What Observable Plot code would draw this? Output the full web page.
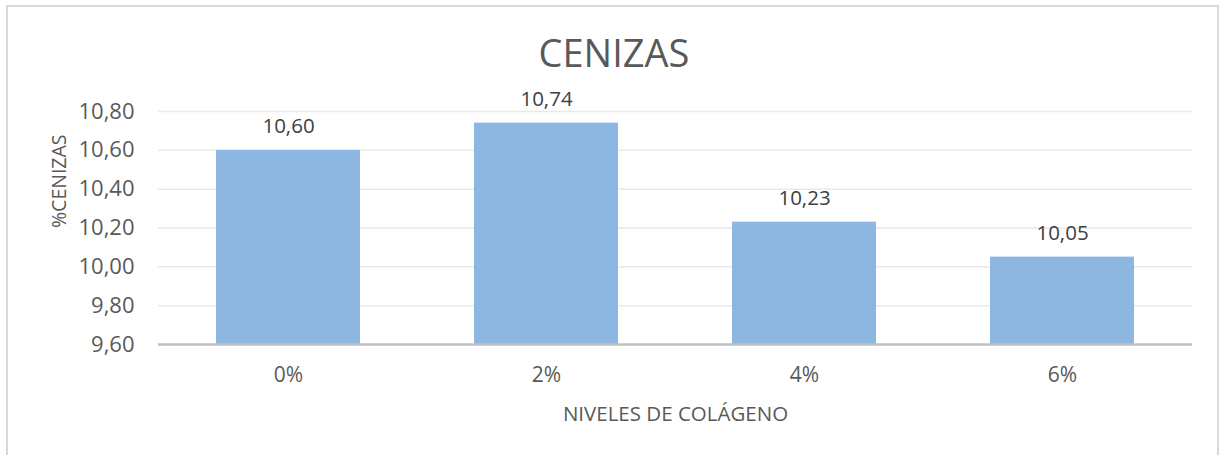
<!DOCTYPE html>
<html>
<head>
<meta charset="utf-8">
<script src="https://cdn.jsdelivr.net/npm/d3@7"></script>
<script src="https://cdn.jsdelivr.net/npm/@observablehq/plot@0.6"></script>
<style>
  html, body { margin: 0; padding: 0; background: #fff; }
  body { width: 1222px; height: 455px; position: relative; overflow: hidden; font-family: "Open Sans", sans-serif; }
  #frame { position: absolute; left: 6px; top: 5px; width: 1213px; height: 470px; border: 2px solid #d9d9d9; box-sizing: border-box; }
  #title { position: absolute; left: 0; top: 26px; width: 1228px; text-align: center; font-size: 38px; color: #595959; line-height: normal; }
  #chart { position: absolute; left: 0; top: 75px; }
</style>
</head>
<body>
<div id="frame"></div>
<div id="title">CENIZAS</div>
<div id="chart"></div>
<script>
const categories = ["0%", "2%", "4%", "6%"];
const values = [10.60, 10.74, 10.23, 10.05];
const yTicks = [9.6, 9.8, 10.0, 10.2, 10.4, 10.6, 10.8];
const yLabel = "%CENIZAS";
const xLabel = "NIVELES DE COLÁGENO";

const data = categories.map((c, i) => ({cat: c, val: values[i]}));
const fmt = d => d.toFixed(2).replace(".", ",");

const chart = Plot.plot({
  width: 1222,
  height: 380,
  marginLeft: 158,
  marginRight: 30,
  marginTop: 36,
  marginBottom: 111,
  style: {fontFamily: "'Open Sans', sans-serif", background: "transparent"},
  x: {domain: categories, paddingInner: 0.443, paddingOuter: 0.2215, label: null},
  y: {domain: [9.6, 10.8], label: null},
  marks: [
    Plot.ruleY(yTicks.slice(1), {stroke: "#e9e9e9", strokeWidth: 1.5}),
    Plot.barY(data, {x: "cat", y1: 9.6, y2: "val", fill: "#8db7e1"}),
    Plot.ruleY([9.6], {stroke: "#bfbfbf", strokeWidth: 2.5}),
    Plot.axisY({ticks: yTicks, tickFormat: fmt, tickSize: 0, tickPadding: 24, fontSize: 22, color: "#595959", label: null}),
    Plot.axisX({tickSize: 0, tickPadding: 23, fontSize: 21, color: "#595959", label: null}),
    Plot.text(data, {x: "cat", y: "val", text: d => fmt(d.val), lineAnchor: "bottom", dy: -17, fontSize: 20.5, fill: "#404040"}),
    Plot.text([yLabel], {frameAnchor: "left", text: d => d, rotate: -90, lineAnchor: "bottom", dx: -93, fontSize: 19.5, fill: "#595959"}),
    Plot.text([xLabel], {frameAnchor: "bottom", text: d => d, lineAnchor: "bottom", dy: 76, fontSize: 20.5, fill: "#595959"})
  ]
});
document.getElementById("chart").appendChild(chart);
</script>
</body>
</html>
